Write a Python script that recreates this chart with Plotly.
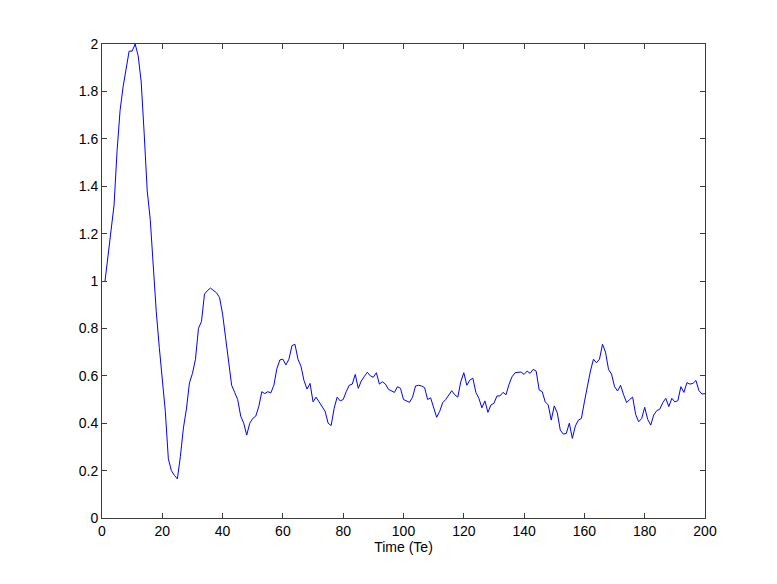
import plotly.graph_objects as go

# time samples 1..200 (Te)
time_te = list(range(1, 201))

# signal values
signal = [
    1.00, 1.10, 1.20, 1.32, 1.55, 1.72, 1.82, 1.90, 1.97, 1.97,
    2.00, 1.95, 1.84, 1.62, 1.38, 1.26, 1.05, 0.87, 0.72, 0.58,
    0.45, 0.25, 0.20, 0.18, 0.165, 0.26, 0.38, 0.46, 0.57, 0.61,
    0.67, 0.80, 0.83, 0.945, 0.96, 0.97, 0.96, 0.95, 0.93, 0.86,
    0.76, 0.65, 0.56, 0.53, 0.50, 0.43, 0.40, 0.35, 0.40, 0.42,
    0.43, 0.47, 0.533, 0.525, 0.533, 0.528, 0.56, 0.63, 0.667, 0.67,
    0.646, 0.67, 0.727, 0.733, 0.67, 0.64, 0.58, 0.544, 0.568, 0.49,
    0.51, 0.49, 0.47, 0.45, 0.40, 0.39, 0.463, 0.51, 0.494, 0.50,
    0.533, 0.56, 0.565, 0.606, 0.547, 0.578, 0.597, 0.615, 0.60, 0.594,
    0.613, 0.565, 0.575, 0.565, 0.543, 0.535, 0.53, 0.554, 0.547, 0.50,
    0.495, 0.488, 0.51, 0.557, 0.56, 0.557, 0.55, 0.50, 0.507, 0.47,
    0.425, 0.45, 0.487, 0.50, 0.52, 0.537, 0.52, 0.51, 0.575, 0.613,
    0.56, 0.582, 0.59, 0.53, 0.505, 0.465, 0.494, 0.446, 0.477, 0.484,
    0.515, 0.515, 0.53, 0.52, 0.564, 0.596, 0.613, 0.616, 0.616, 0.606,
    0.62, 0.61, 0.627, 0.62, 0.54, 0.533, 0.49, 0.477, 0.413, 0.473,
    0.444, 0.371, 0.354, 0.357, 0.40, 0.336, 0.388, 0.413, 0.42, 0.49,
    0.56, 0.62, 0.67, 0.655, 0.67, 0.733, 0.70, 0.627, 0.607, 0.554,
    0.536, 0.56, 0.52, 0.487, 0.50, 0.51, 0.437, 0.406, 0.42, 0.467,
    0.416, 0.392, 0.435, 0.453, 0.459, 0.487, 0.505, 0.47, 0.505, 0.49,
    0.495, 0.554, 0.53, 0.571, 0.565, 0.568, 0.58, 0.537, 0.523, 0.525,
]

x_ticks = [0, 20, 40, 60, 80, 100, 120, 140, 160, 180, 200]
y_ticks = [0, 0.2, 0.4, 0.6, 0.8, 1, 1.2, 1.4, 1.6, 1.8, 2]

FONT = 'Liberation Sans, Arial, sans-serif'

fig = go.Figure()

fig.add_trace(
    go.Scatter(
        x=time_te,
        y=signal,
        mode='lines',
        line=dict(color='#0000ff', width=1),
        showlegend=False
    )
)

# MATLAB-like boxed axes with inward ticks
axis_style = dict(
    showline=True,
    linecolor='#3c3c3c',
    linewidth=1,
    mirror='ticks',
    ticks='inside',
    ticklen=5,
    tickcolor='#3c3c3c',
    showgrid=False,
    zeroline=False,
    tickfont=dict(family=FONT, size=14, color='black'),
)

# margins compensate for the page's own 8px body offset
fig.update_layout(
    width=777,
    height=584,
    margin=dict(l=94, r=80, t=36, b=74),
    paper_bgcolor='white',
    plot_bgcolor='white',
    xaxis=dict(
        range=[0, 200],
        tickvals=x_ticks,
        title=dict(text='Time (Te)', standoff=3,
                   font=dict(family=FONT, size=14, color='black')),
        **axis_style
    ),
    yaxis=dict(
        range=[0, 2],
        tickvals=y_ticks,
        ticktext=[f'{v:g}' for v in y_ticks],
        **axis_style
    ),
)

fig.write_html("out.html")
